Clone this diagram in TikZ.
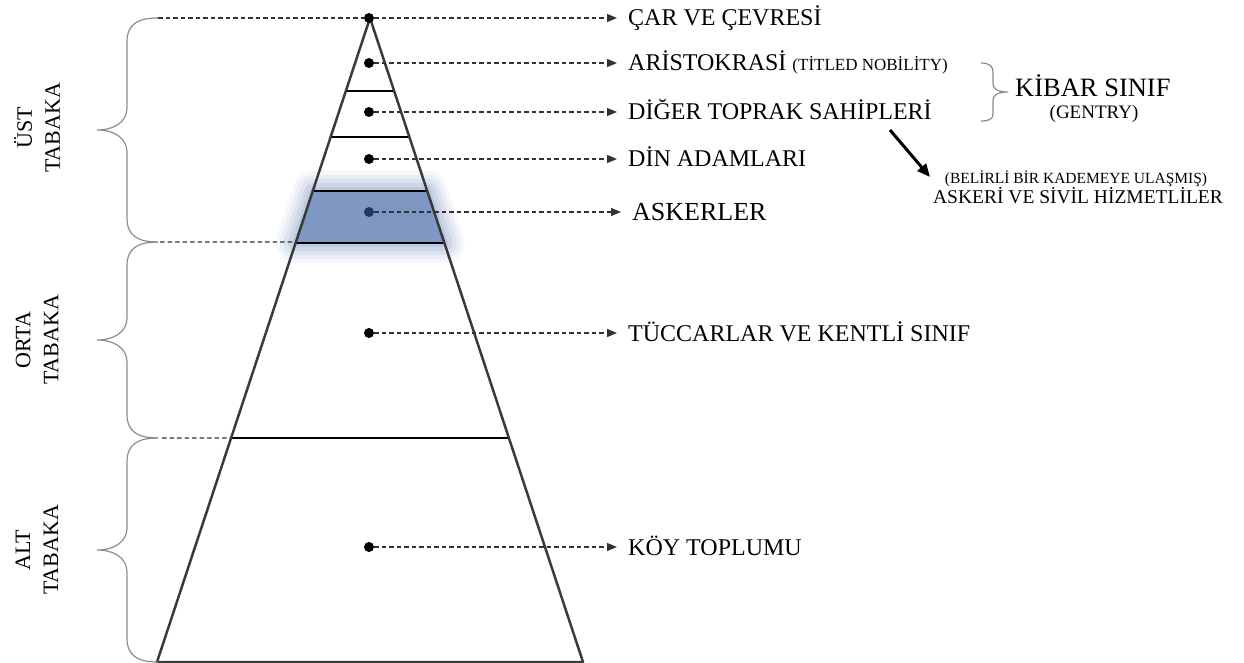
\documentclass[tikz,border=0pt]{standalone}
\usepackage{fontspec}
\setmainfont{Liberation Serif}
\usetikzlibrary{calc,arrows.meta}

\definecolor{bandblue}{HTML}{7F97C3}
\definecolor{navy}{HTML}{1F3864}
\definecolor{edgegray}{HTML}{3A3A3A}
\definecolor{bracegray}{HTML}{8C8C8C}

\tikzset{
	dot/.style={circle,fill=black,inner sep=0pt,minimum size=10pt},
	lbl/.style={anchor=base west,inner sep=0pt,font=\fontsize{24}{28}\selectfont},
	side/.style={rotate=90,align=center,inner sep=0pt,font=\fontsize{22}{28}\selectfont},
	dashline/.style={line width=1.2pt,black!80,dash pattern=on 4.5pt off 3pt},
	dasharrow/.style={dashline,-{Triangle[length=10pt,width=8pt]},shorten >=11pt},
	brc/.style={bracegray,line width=1.2pt},
}

\begin{document}
\begin{tikzpicture}[x=1pt,y=-1pt]
	\useasboundingbox (0,0) rectangle (1244,663);
	\coordinate (A) at (370,18);
	\coordinate (L) at (157,662);
	\coordinate (R) at (583,662);
	% blue band with glow
	\coordinate (b1) at ($(A)!{173/644}!(L)$);
	\coordinate (b2) at ($(A)!{173/644}!(R)$);
	\coordinate (b3) at ($(A)!{225/644}!(R)$);
	\coordinate (b4) at ($(A)!{225/644}!(L)$);
	\foreach \w/\o in {40/0.08,32/0.1,24/0.12,16/0.16,8/0.2} {
		\draw[bandblue,line width=\w pt,opacity=\o,line join=round] (b1) -- (b2) -- (b3) -- (b4) -- cycle;
	}
	\fill[bandblue] (b1) -- (b2) -- (b3) -- (b4) -- cycle;
	\foreach \y in {91,137,191,243,438} {
		\draw[line width=1.5pt] ($(A)!{(\y-18)/644}!(L)$) -- ($(A)!{(\y-18)/644}!(R)$);
	}
	\draw[edgegray,line width=2.5pt,line join=round] (A) -- (L) -- (R) -- cycle;
	% levels
	\foreach \y/\x/\nm/\col/\txt in {
		18/628/car/black/{ÇAR VE ÇEVRESİ},
		63/628/aris/black/{ARİSTOKRASİ {\fontsize{17}{20}\selectfont(TİTLED NOBİLİTY)}},
		112/628/toprak/black/{DİĞER TOPRAK SAHİPLERİ},
		159/628/din/black/{DİN ADAMLARI},
		212/632/asker/navy/{\fontsize{26}{30}\selectfont ASKERLER},
		333/628/tuccar/black/{TÜCCARLAR VE KENTLİ SINIF},
		547/628/koy/black/{KÖY TOPLUMU}} {
		\node[dot,fill=\col] (\nm) at (369,\y) {};
		\node[lbl] (\nm txt) at (\x,\y+8) {\txt};
		\draw[dasharrow] (\nm) -- (\nm -| \nm txt.west);
	}
	% left braces
	\coordinate (u1) at (158,18);
	\coordinate (u2) at (160,242);
	\coordinate (u3) at (162,438);
	\coordinate (e2) at ($(A)!{224/644}!(L)$);
	\coordinate (e3) at ($(A)!{420/644}!(L)$);
	\draw[dashline] (u1) -- (car);
	\draw[dashline] (u2) -- (e2);
	\draw[dashline] (u3) -- (e3);
	\foreach \ya/\yb in {18/242,242/438,438/662} {
		\pgfmathsetmacro\ym{(\ya+\yb)/2}
		\draw[brc] (158,\ya) .. controls (138,\ya) and (127,\ya+6) .. (127,\ya+24)
			-- (127,\ym-22) .. controls (127,\ym-8) and (114,\ym) .. (97,\ym)
			.. controls (114,\ym) and (127,\ym+8) .. (127,\ym+22)
			-- (127,\yb-24) .. controls (127,\yb-6) and (138,\yb) .. (158,\yb);
	}
	\node[side] (ust) at (37,128) {ÜST\\TABAKA};
	\node[side] (orta) at (37,340) {ORTA\\TABAKA};
	\node[side] (alt) at (37,550) {ALT\\TABAKA};
	% kibar sinif
	\draw[brc] (981,63) .. controls (989,63) and (993,66) .. (993,72) -- (993,84)
		.. controls (993,89) and (998,92) .. (1008,92)
		.. controls (998,92) and (993,95) .. (993,100) -- (993,114)
		.. controls (993,119) and (989,121) .. (981,121);
	\node[anchor=base west,inner sep=0pt,font=\fontsize{26.5}{30}\selectfont] (kibar) at (1015,97) {KİBAR SINIF};
	\node[anchor=base,inner sep=0pt,font=\fontsize{19}{22}\selectfont] (gentry) at (1094,119) {(GENTRY)};
	\node[anchor=base,inner sep=0pt,font=\fontsize{15.5}{18}\selectfont] (belirli) at (1076,183) {(BELİRLİ BİR KADEMEYE ULAŞMIŞ)};
	\node[anchor=base,inner sep=0pt,font=\fontsize{19.5}{23}\selectfont] (hizmet) at (1078,204) {ASKERİ VE SİVİL HİZMETLİLER};
	\coordinate (k1) at (890,130);
	\coordinate (k2) at (930,177);
	\draw[line width=3pt,-{Triangle[length=13pt,width=11pt]}] (k1) -- (k2);
\end{tikzpicture}
\end{document}
